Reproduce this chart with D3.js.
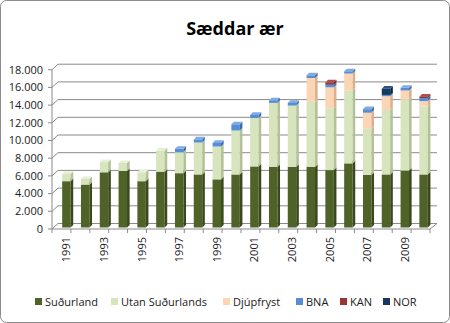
<!DOCTYPE html>
<html><head><meta charset="utf-8">
<script src="https://cdn.jsdelivr.net/npm/d3@7"></script>
<style>body{margin:0;background:#fff}svg{display:block}</style>
</head><body>
<svg id="c" width="450" height="323"></svg>
<script>
const years = d3.range(1991, 2011).map(String);
const sudurland = [5200,4800,6200,6350,5200,6250,6100,5950,5400,5950,6850,6800,6800,6800,6450,7200,5900,5950,6400,5950];
const utanSudurlands = [800,650,1150,900,1000,2400,2350,3600,3700,4950,5450,7200,6900,7300,6950,8200,5200,7250,8000,7650];
const djupfryst = [0,0,0,0,0,0,0,0,0,0,0,0,0,2700,2350,1900,1800,1550,1000,600];
const bna = [0,0,0,0,0,0,400,350,400,700,350,300,300,300,300,250,400,150,300,350];
const kan = [0,0,0,0,0,0,0,0,0,0,0,0,0,0,250,0,0,0,0,150];
const nor = [0,0,0,0,0,0,0,0,0,0,0,0,0,0,0,0,0,700,0,0];
const seriesNames = ["Suðurland","Utan Suðurlands","Djúpfryst","BNA","KAN","NOR"];
const yTicks = d3.range(0, 18001, 2000);
const xTickLabels = years.filter((d,i)=>i%2===0);

const colors = [
  {front:"#4F6228", side:"#3a481d", top:"#667e35"},
  {front:"#D7E4BD", side:"#b2c197", top:"#e6eed6"},
  {front:"#FCD5B5", side:"#dcb08e", top:"#fde4cf"},
  {front:"#558ED5", side:"#3c6eae", top:"#80aae3"},
  {front:"#953735", side:"#6c2624", top:"#b24e4b"},
  {front:"#17375E", side:"#0d233d", top:"#2d5384"}
];
const dataSeries = [sudurland, utanSudurlands, djupfryst, bna, kan, nor];
const table = years.map((y,i)=>{const o={year:y}; seriesNames.forEach((n,k)=>o[n]=dataSeries[k][i]); return o;});
const stack = d3.stack().keys(seriesNames)(table);

const svg = d3.select("#c");
svg.append("rect").attr("x",0.5).attr("y",0.5).attr("width",449).attr("height",322)
  .attr("rx",6).attr("fill","#fff").attr("stroke","#8c8c8c");

// scales
const yFront = d3.scaleLinear().domain([0,18000]).range([229,69.7]);
const wallDx = 6, wallDy = 5.5;
const xFrontLeft = 52, xFrontRight = 430;
const yBar = d3.scaleLinear().domain([0,18000]).range([227.5,67.3]);
const x = d3.scaleBand().domain(years).range([57,433]).paddingInner(0.55).paddingOuter(0.275);
const bw = x.bandwidth();
const dX = 2.6, dY = 2.6;

const grid = "#8a8a8a";
// gridlines: diagonal side wall + back wall
const g = svg.append("g");
yTicks.forEach(v=>{
  const yf = yFront(v), yb = yf - wallDy;
  g.append("path").attr("d",`M${xFrontLeft},${yf}L${xFrontLeft+wallDx},${yb}L${xFrontRight+wallDx+1},${yb}`)
    .attr("fill","none").attr("stroke",grid).attr("stroke-width",1);
  g.append("line").attr("x1",xFrontLeft-4).attr("x2",xFrontLeft).attr("y1",yf).attr("y2",yf).attr("stroke",grid);
});
// vertical axis line
g.append("line").attr("x1",xFrontLeft).attr("x2",xFrontLeft).attr("y1",yFront(18000)).attr("y2",yFront(0)).attr("stroke",grid);
// floor front & right edges
g.append("path").attr("d",`M${xFrontLeft},${yFront(0)}L${xFrontRight},${yFront(0)}L${xFrontRight+wallDx+1},${yFront(0)-wallDy}`)
  .attr("fill","none").attr("stroke",grid);
// x ticks
const step = x.step();
d3.range(0,21).forEach(i=>{
  const xx = xFrontLeft + i*(xFrontRight-xFrontLeft)/20;
  g.append("line").attr("x1",xx).attr("x2",xx).attr("y1",yFront(0)).attr("y2",yFront(0)+4).attr("stroke",grid);
});

// bars
const bars = svg.append("g");
years.forEach((yr,i)=>{
  stack.forEach((s,k)=>{
    const d = s[i];
    if (d[1]-d[0] <= 0) return;
    const x0 = x(yr), y0 = yBar(d[0]), y1 = yBar(d[1]);
    const c = colors[k];
    bars.append("rect").attr("x",x0).attr("y",y1).attr("width",bw).attr("height",y0-y1).attr("fill",c.front);
    bars.append("path").attr("d",`M${x0+bw},${y0}L${x0+bw+dX},${y0-dY}L${x0+bw+dX},${y1-dY}L${x0+bw},${y1}Z`).attr("fill",c.side);
    bars.append("path").attr("d",`M${x0},${y1}L${x0+bw},${y1}L${x0+bw+dX},${y1-dY}L${x0+dX},${y1-dY}Z`).attr("fill",c.top);
  });
});

// y labels
const font = "'Open Sans', 'DejaVu Sans', sans-serif";
const fmt = v => d3.format(",")(v).replace(/,/g,".");
svg.append("g").selectAll("text").data(yTicks).join("text")
  .attr("x",43).attr("y",d=>yFront(d)).attr("dy","0.35em").attr("text-anchor","end")
  .attr("font-family",font).attr("font-size",11).attr("fill","#1a1a1a").text(fmt);

// x labels
svg.append("g").selectAll("text").data(xTickLabels).join("text")
  .attr("transform",d=>`translate(${x(d)+bw/2+4},237) rotate(-90)`)
  .attr("text-anchor","end").attr("font-family",font).attr("font-size",11).attr("fill","#1a1a1a").text(d=>d);

// title
svg.append("text").attr("x",235).attr("y",35).attr("text-anchor","middle")
  .attr("font-family",font).attr("font-weight",700).attr("font-size",18).attr("fill","#000").text("Sæddar ær");

// legend
const legendX = [35, 111, 223, 296, 340, 383];
const lg = svg.append("g");
seriesNames.forEach((n,k)=>{
  lg.append("rect").attr("x",legendX[k]).attr("y",298).attr("width",7).attr("height",7).attr("fill",colors[k].front);
  lg.append("text").attr("x",legendX[k]+10).attr("y",305.5).attr("font-family",font).attr("font-size",11)
    .attr("fill","#1a1a1a").text(n);
});
</script>
</body></html>
